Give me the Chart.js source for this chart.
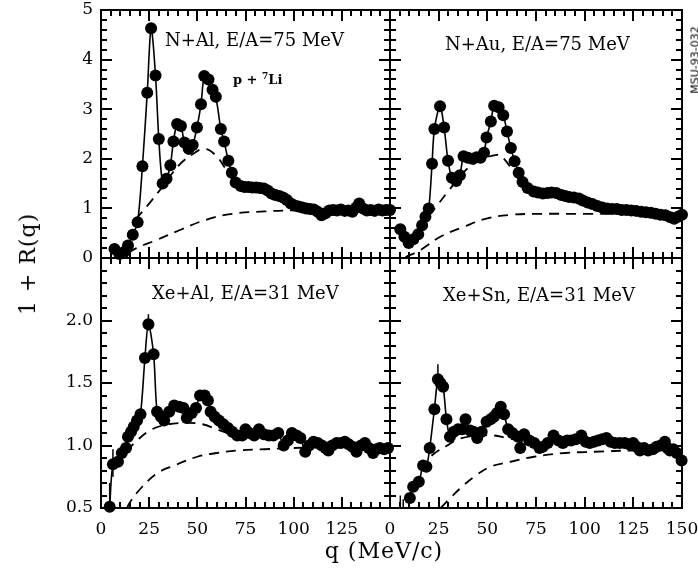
<!DOCTYPE html>
<html>
<head>
<meta charset="utf-8">
<script src="https://cdn.jsdelivr.net/npm/chart.js@4.4.1/dist/chart.umd.min.js"></script>
<style>
  html, body { margin: 0; padding: 0; background: #fff; }
  #wrap { position: relative; width: 698px; height: 569px; overflow: hidden; font-family: "DejaVu Serif", serif; color: #000; }
  #wrap canvas { position: absolute; left: 0; top: 0; }
  .lbl { position: absolute; white-space: nowrap; font-size: 18px; line-height: 1; }
  .small { font-size: 13px; font-weight: bold; }
  .small sup { font-size: 9px; vertical-align: 5px; }
  .axis { position: absolute; white-space: nowrap; font-size: 22px; line-height: 1; letter-spacing: 1px; }
  .stamp { position: absolute; white-space: nowrap; font-size: 11px; line-height: 1; font-family: "DejaVu Sans", sans-serif; }
</style>
</head>
<body>
<div id="wrap">
  <canvas id="cTL" width="698" height="569"></canvas>
  <canvas id="cTR" width="698" height="569"></canvas>
  <canvas id="cBL" width="698" height="569"></canvas>
  <canvas id="cBR" width="698" height="569"></canvas>

  <div class="lbl" style="left:165px; top:31px;">N+Al, E/A=75 MeV</div>
  <div class="lbl small" style="left:233px; top:72px;">p + <sup>7</sup>Li</div>
  <div class="lbl" style="left:445px; top:35px;">N+Au, E/A=75 MeV</div>
  <div class="lbl" style="left:152px; top:284px;">Xe+Al, E/A=31 MeV</div>
  <div class="lbl" style="left:443px; top:286px;">Xe+Sn, E/A=31 MeV</div>

  <div class="axis" style="left:28px; top:264px; transform: translate(-50%, -50%) rotate(-90deg);">1 + R(q)</div>
  <div class="axis" style="left:384px; top:540px; transform: translateX(-50%);">q (MeV/c)</div>
  <div class="stamp" style="left:695px; top:60px; transform: translate(-50%, -50%) rotate(-90deg);">MSU-93-032</div>
</div>

<script>
// N+Al, E/A=75 MeV (top left)
const nAlQ = [7, 9.5, 12, 14, 16.5, 19, 21.5, 24, 26, 28.3, 30, 32, 34, 36, 37.6, 39.5, 41.5, 43.3, 45.5, 47.6,
  49.8, 51.9, 53.6, 55.8, 57.9, 59.6, 62.2, 63.9, 66.1, 67.9, 69.9, 72.5, 74.5, 76.5, 78.5, 80.5, 82.5, 84.5, 86.5,
  88.5, 90.5, 92.5, 94.5, 96.5, 98.5, 100.5, 102.5, 104.5, 106.5, 108.5, 110.5, 112.5, 114.5, 116.5, 118.5, 120.5,
  122.5, 124.5, 126.5, 128.5, 130.5, 132.5, 134, 136, 138, 140, 142, 144, 146, 148, 150];
const nAlR = [0.18, 0.08, 0.12, 0.25, 0.47, 0.72, 1.85, 3.33, 4.63, 3.68, 2.4, 1.5, 1.6, 1.87, 2.35, 2.7, 2.66, 2.33, 2.2, 2.28,
  2.63, 3.1, 3.67, 3.6, 3.39, 3.25, 2.6, 2.35, 1.96, 1.72, 1.52, 1.45, 1.43, 1.43, 1.42, 1.42, 1.41, 1.40, 1.36,
  1.30, 1.27, 1.25, 1.22, 1.17, 1.10, 1.06, 1.04, 1.02, 1.0, 0.99, 0.98, 0.93, 0.86, 0.9, 0.96, 0.97,
  0.96, 0.98, 0.95, 0.96, 0.93, 1.02, 1.1, 1.0, 0.96, 0.97, 0.95, 0.98, 0.96, 0.97, 0.97];
const nAlUpQ = [18, 24, 32, 40, 47, 54, 60, 65, 70, 76, 85];
const nAlUpR = [0.78, 1.05, 1.44, 1.85, 2.08, 2.2, 2.05, 1.78, 1.52, 1.42, 1.38];
const nAlLoQ = [14, 18.4, 28.7, 40.7, 54.5, 68, 85, 100, 120, 150];
const nAlLoR = [0.1, 0.2, 0.36, 0.56, 0.77, 0.89, 0.94, 0.96, 0.97, 0.97];

// N+Au, E/A=75 MeV (top right)
const nAuQ = [5.3, 7.4, 9.6, 12, 14.5, 16.5, 18.2, 19.9, 21.6, 22.8, 25.7, 27.8, 29.8, 31.8, 34, 35.9, 37.8, 40, 42.3, 44.5,
  46.5, 48.3, 49.6, 51.8, 53.5, 55.8, 58.2, 60.1, 62.1, 64, 66.1, 68.1, 70.7, 73.8, 76, 78.5, 81, 83, 85.4, 88,
  90, 92, 94.5, 97, 99, 101.5, 104, 106.5, 109, 111.5, 114, 116.5, 119, 121.5, 124, 126.5, 129, 131.5, 134, 136.5,
  139, 141.5, 144, 146, 148, 150];
const nAuR = [0.58, 0.43, 0.30, 0.38, 0.48, 0.66, 0.83, 1.0, 1.9, 2.6, 3.06, 2.63, 1.96, 1.62, 1.55, 1.67, 2.05, 2.02, 2.0, 2.03,
  2.02, 2.12, 2.43, 2.75, 3.07, 3.04, 2.88, 2.55, 2.22, 1.95, 1.72, 1.53, 1.41, 1.34, 1.32, 1.30, 1.31, 1.32, 1.31, 1.27,
  1.25, 1.23, 1.22, 1.2, 1.16, 1.12, 1.09, 1.05, 1.02, 1.0, 0.99, 0.99, 0.97, 0.97, 0.96, 0.95, 0.93, 0.92, 0.91, 0.89,
  0.87, 0.86, 0.82, 0.79, 0.83, 0.87];
const nAuUpQ = [20, 24.4, 30.4, 38.9, 47, 55, 58, 63, 67, 72, 80];
const nAuUpR = [0.85, 1.07, 1.37, 1.77, 1.98, 2.08, 2.02, 1.77, 1.55, 1.38, 1.3];
const nAuLoQ = [8, 15.6, 25.9, 37.9, 50, 62, 75, 100, 125, 150];
const nAuLoR = [0.02, 0.16, 0.43, 0.63, 0.8, 0.87, 0.89, 0.89, 0.89, 0.89];

// Xe+Al, E/A=31 MeV (bottom left)
const xeAlQ = [4.5, 6.2, 8.8, 10.8, 13, 14, 15.6, 17, 18.7, 20.5, 22.8, 24.6, 27.3, 29.1, 31.1, 32.8, 35.4, 38, 40.5, 42.8,
  44.5, 47.1, 49.3, 51.4, 53.8, 55.5, 56.9, 59, 61.2, 63.5, 65.9, 68.1, 70.7, 73.3, 75, 77, 79.5, 82, 84.5, 87,
  89.5, 92, 94.8, 97, 99.1, 101.5, 103.5, 106, 108, 110.3, 112.5, 114.6, 116.5, 118, 120, 122.3, 124.5, 126.6, 128.5, 130.5,
  132.6, 135, 137, 139, 141.2, 143, 144.7, 147, 149];
const xeAlR = [0.51, 0.85, 0.87, 0.94, 0.98, 1.07, 1.11, 1.15, 1.2, 1.25, 1.7, 1.97, 1.73, 1.27, 1.23, 1.2, 1.27, 1.32, 1.31, 1.30,
  1.22, 1.26, 1.30, 1.40, 1.40, 1.36, 1.27, 1.23, 1.20, 1.17, 1.14, 1.11, 1.08, 1.08, 1.13, 1.10, 1.08, 1.13, 1.09, 1.08,
  1.08, 1.10, 1.0, 1.04, 1.10, 1.08, 1.06, 0.95, 1.0, 1.03, 1.02, 1.0, 0.98, 0.96, 1.0, 1.02, 1.02, 1.03, 1.01, 0.99,
  0.95, 1.0, 1.02, 0.98, 0.94, 0.97, 0.98, 0.97, 0.98];
const xeAlUpQ = [13, 17.4, 24.2, 32, 43, 52.7, 60, 68, 75];
const xeAlUpR = [0.96, 1.02, 1.11, 1.16, 1.18, 1.17, 1.13, 1.09, 1.07];
const xeAlLoQ = [13.5, 14.8, 20.8, 29.4, 38, 50, 60.3, 70.6, 85, 100, 125, 150];
const xeAlLoR = [0.5, 0.54, 0.66, 0.78, 0.84, 0.91, 0.94, 0.96, 0.97, 0.98, 0.99, 0.99];
// visible error bars
const xeAlErrQ = [4.5, 6.2, 24.6];
const xeAlErrLo = [0.5, 0.75, 1.92];
const xeAlErrHi = [0.7, 0.97, 2.05];

// Xe+Sn, E/A=31 MeV (bottom right)
const xeSnQ = [10.2, 11.9, 14.8, 17, 18.7, 20.4, 22.8, 24.6, 25.9, 27.3, 29, 30.8, 32.8, 35, 37.1, 38.8, 41.1, 42.8, 44.8, 47.1,
  49.6, 51.7, 53.4, 55, 56.9, 58.6, 60.7, 62.9, 65.8, 66.9, 68.9, 71.5, 74.1, 76.8, 78.5, 81, 84, 86.5, 88.8, 91,
  93.1, 95.5, 98.3, 100.5, 102.6, 104.8, 106.9, 109, 111.2, 113.3, 115.5, 118, 120.6, 122.8, 124.9, 126.7, 128.4, 130.5, 132.6, 135,
  137, 139, 141.2, 142.5, 143.8, 145.5, 147.3, 149.8];
const xeSnR = [0.58, 0.67, 0.71, 0.84, 0.83, 0.98, 1.29, 1.53, 1.5, 1.47, 1.21, 1.07, 1.11, 1.13, 1.13, 1.21, 1.12, 1.11, 1.06, 1.11,
  1.19, 1.21, 1.23, 1.26, 1.31, 1.25, 1.13, 1.10, 1.07, 0.98, 1.09, 1.04, 1.02, 0.98, 0.99, 1.02, 1.08, 1.04, 1.02, 1.04,
  1.04, 1.05, 1.08, 1.03, 1.02, 1.03, 1.04, 1.05, 1.06, 1.03, 1.02, 1.02, 1.02, 1.01, 1.02, 0.99, 0.96, 0.98, 0.96, 0.97,
  0.99, 1.0, 1.03, 0.98, 0.96, 0.97, 0.94, 0.88];
const xeSnUpQ = [17, 20.8, 29.4, 35, 45, 53.4, 60, 70, 80];
const xeSnUpR = [0.8, 0.91, 1.0, 1.05, 1.08, 1.08, 1.06, 1.03, 1.0];
const xeSnLoQ = [26, 30.3, 36.3, 43.2, 51.7, 62, 74.1, 90, 105, 125, 150];
const xeSnLoR = [0.5, 0.57, 0.66, 0.75, 0.83, 0.87, 0.91, 0.94, 0.95, 0.96, 0.96];
const xeSnErrQ = [5.3, 6.8, 24.6];
const xeSnErrLo = [0.5, 0.5, 1.5];
const xeSnErrHi = [0.6, 0.57, 1.65];

// axis ticks: labelled values and the minor tick positions
const xTickLabels = [0, 25, 50, 75, 100, 125, 150];
const topYLabels = [0, 1, 2, 3, 4, 5];
const botYLabels = [0.5, 1.0, 1.5, 2.0, 2.5];
const xMinorTicks = [];
for (let q = 0; q <= 150; q += 5) xMinorTicks.push(q);
const topYMinorTicks = [];
for (let i = 0; i <= 25; i++) topYMinorTicks.push(i / 5);
const botYMinorTicks = [];
for (let i = 5; i <= 25; i++) botYMinorTicks.push(i / 10);

const tickFont = { family: 'DejaVu Serif', size: 17 };
const Y_AXIS_W = 60, X_AXIS_H = 40;

function pairs(qs, rs) {
    return qs.map((q, i) => ({ x: q, y: rs[i] }));
}

function zeroPadding(s) {
    s.paddingLeft = 0; s.paddingRight = 0; s.paddingTop = 0; s.paddingBottom = 0;
}

function isMajor(v, step) {
    return Math.abs(v / step - Math.round(v / step)) < 1e-6;
}

// frame, inward ticks on all four sides, error bars
function frameTicks(yMinor, yMajorStep, err) {
    return {
        id: 'frameTicks',
        afterDraw(chart) {
            const ctx = chart.ctx;
            const a = chart.chartArea;
            const sx = chart.scales.x, sy = chart.scales.y;
            const top = Math.round(a.top), bottom = Math.round(a.bottom);
            const left = Math.round(a.left), right = Math.round(a.right);
            ctx.save();
            ctx.setLineDash([]);
            ctx.globalAlpha = 1;
            ctx.fillStyle = '#000000';
            xMinorTicks.forEach((v) => {
                const px = Math.round(sx.getPixelForValue(v)) - 1;
                const len = isMajor(v, 25) ? 11 : 6;
                ctx.fillRect(px, bottom - len, 2, len);
                ctx.fillRect(px, top, 2, len);
            });
            yMinor.forEach((v) => {
                const py = Math.round(sy.getPixelForValue(v)) - 1;
                const len = isMajor(v, yMajorStep) ? 11 : 6;
                ctx.fillRect(left, py, len, 2);
                ctx.fillRect(right - len, py, len, 2);
            });
            ctx.strokeStyle = '#000000';
            if (err) {
                ctx.lineWidth = 1.5;
                ctx.beginPath();
                err.q.forEach((q, i) => {
                    const px = sx.getPixelForValue(q);
                    ctx.moveTo(px, sy.getPixelForValue(err.lo[i]));
                    ctx.lineTo(px, sy.getPixelForValue(err.hi[i]));
                });
                ctx.stroke();
            }
            ctx.lineWidth = 2;
            ctx.strokeRect(left, top, right - left, bottom - top);
            ctx.restore();
        }
    };
}

function makePanel(cfg) {
    const yLabels = cfg.yLabels;
    const dashed = (q, r) => ({
        data: pairs(q, r),
        showLine: true,
        tension: 0.4,
        borderColor: '#000',
        borderWidth: 1.8,
        borderDash: [10, 7],
        pointRadius: 0,
        order: 1
    });
    new Chart(document.getElementById(cfg.id), {
        type: 'scatter',
        data: {
            datasets: [
                {
                    data: pairs(cfg.q, cfg.r),
                    showLine: true,
                    tension: 0.3,
                    borderColor: '#000',
                    borderWidth: 1.6,
                    pointRadius: 6,
                    pointBackgroundColor: '#000',
                    pointBorderColor: '#000',
                    pointBorderWidth: 0,
                    clip: false,
                    order: 0
                },
                dashed(cfg.upQ, cfg.upR),
                dashed(cfg.loQ, cfg.loR)
            ]
        },
        options: {
            responsive: false,
            animation: false,
            events: [],
            layout: {
                padding: {
                    left: cfg.box[0] - Y_AXIS_W,
                    right: 698 - cfg.box[1],
                    top: cfg.box[2],
                    bottom: 569 - cfg.box[3] - X_AXIS_H
                }
            },
            plugins: {
                legend: { display: false },
                tooltip: { enabled: false }
            },
            scales: {
                x: {
                    type: 'linear',
                    min: 0,
                    max: 150,
                    afterFit: (s) => { s.height = X_AXIS_H; zeroPadding(s); },
                    afterBuildTicks: (s) => { s.ticks = xTickLabels.map(v => ({ value: v })); },
                    grid: { display: false, drawTicks: false },
                    border: { display: false },
                    ticks: {
                        display: cfg.showX,
                        autoSkip: false,
                        maxRotation: 0,
                        padding: 11,
                        color: '#000',
                        font: tickFont,
                        callback: (v) => (cfg.hideX150 && v === 150) ? '' : String(v)
                    }
                },
                y: {
                    type: 'linear',
                    min: yLabels[0],
                    max: yLabels[yLabels.length - 1],
                    afterFit: (s) => { s.width = Y_AXIS_W; zeroPadding(s); },
                    afterBuildTicks: (s) => { s.ticks = yLabels.map(v => ({ value: v })); },
                    grid: { display: false, drawTicks: false },
                    border: { display: false },
                    ticks: {
                        display: cfg.showY,
                        autoSkip: false,
                        padding: 8,
                        color: '#000',
                        font: tickFont,
                        callback: cfg.yFormat
                    }
                }
            }
        },
        plugins: [frameTicks(cfg.yMinor, cfg.yMajorStep, cfg.err)]
    });
}

const LEFT = [101, 390], RIGHT = [390, 682];
const TOP = [10, 258], BOTTOM = [258, 508];

makePanel({
    id: 'cTL', box: [LEFT[0], LEFT[1], TOP[0], TOP[1]],
    q: nAlQ, r: nAlR, upQ: nAlUpQ, upR: nAlUpR, loQ: nAlLoQ, loR: nAlLoR,
    yLabels: topYLabels, yMinor: topYMinorTicks, yMajorStep: 1,
    showX: false, showY: true, yFormat: (v) => String(v)
});
makePanel({
    id: 'cTR', box: [RIGHT[0], RIGHT[1], TOP[0], TOP[1]],
    q: nAuQ, r: nAuR, upQ: nAuUpQ, upR: nAuUpR, loQ: nAuLoQ, loR: nAuLoR,
    yLabels: topYLabels, yMinor: topYMinorTicks, yMajorStep: 1,
    showX: false, showY: false, yFormat: (v) => String(v)
});
makePanel({
    id: 'cBL', box: [LEFT[0], LEFT[1], BOTTOM[0], BOTTOM[1]],
    q: xeAlQ, r: xeAlR, upQ: xeAlUpQ, upR: xeAlUpR, loQ: xeAlLoQ, loR: xeAlLoR,
    err: { q: xeAlErrQ, lo: xeAlErrLo, hi: xeAlErrHi },
    yLabels: botYLabels, yMinor: botYMinorTicks, yMajorStep: 0.5,
    showX: true, hideX150: true, showY: true, yFormat: (v) => v === 2.5 ? '' : v.toFixed(1)
});
makePanel({
    id: 'cBR', box: [RIGHT[0], RIGHT[1], BOTTOM[0], BOTTOM[1]],
    q: xeSnQ, r: xeSnR, upQ: xeSnUpQ, upR: xeSnUpR, loQ: xeSnLoQ, loR: xeSnLoR,
    err: { q: xeSnErrQ, lo: xeSnErrLo, hi: xeSnErrHi },
    yLabels: botYLabels, yMinor: botYMinorTicks, yMajorStep: 0.5,
    showX: true, showY: false, yFormat: (v) => v.toFixed(1)
});
</script>
</body>
</html>
